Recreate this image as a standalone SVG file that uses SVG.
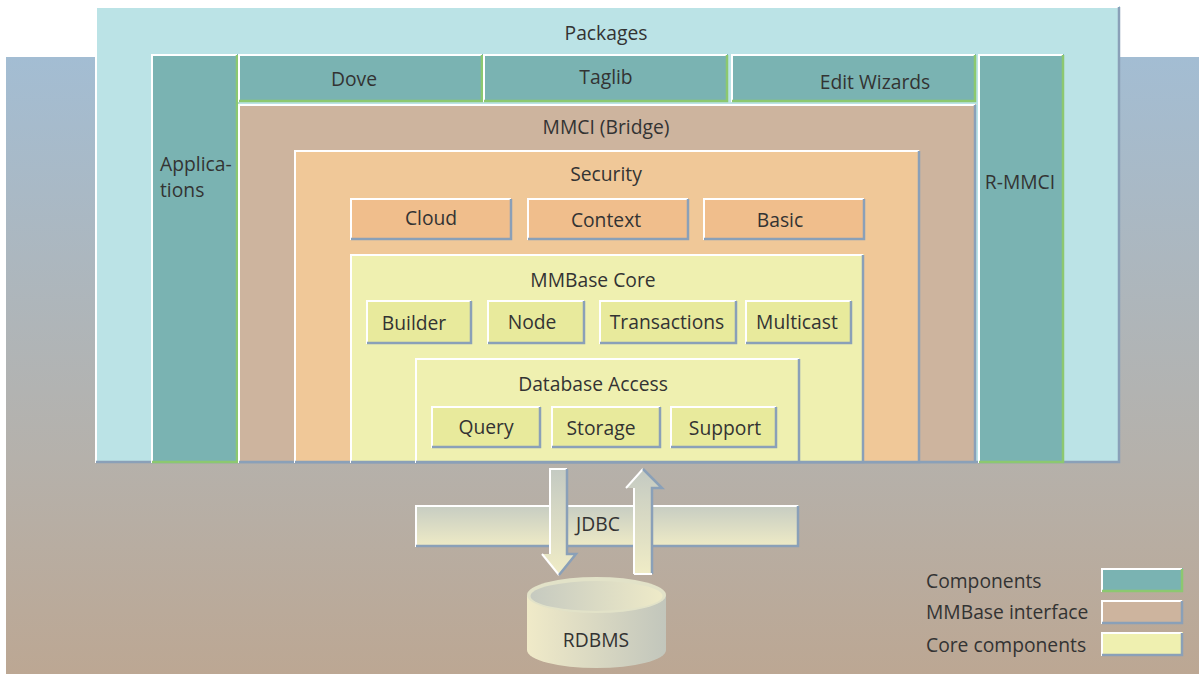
<svg xmlns="http://www.w3.org/2000/svg" width="1199" height="674" viewBox="0 0 1199 674">
<defs>
<linearGradient id="bg" x1="0" y1="0" x2="0" y2="1">
<stop offset="0" stop-color="#a3bdd3"/>
<stop offset="0.65" stop-color="#b5b1ab"/>
<stop offset="1" stop-color="#bca793"/>
</linearGradient>
<linearGradient id="bar" x1="0" y1="0" x2="0" y2="1">
<stop offset="0" stop-color="#c6ccc2"/>
<stop offset="1" stop-color="#efebc6"/>
</linearGradient>
<linearGradient id="arrV" x1="0" y1="0" x2="0" y2="1">
<stop offset="0" stop-color="#c4cac2"/>
<stop offset="1" stop-color="#f0ecc6"/>
</linearGradient>
<linearGradient id="cylBody" x1="0" y1="0" x2="1" y2="0">
<stop offset="0" stop-color="#f0eac8"/>
<stop offset="1" stop-color="#c2c6bc"/>
</linearGradient>
<linearGradient id="cylTop" x1="0" y1="0" x2="1" y2="0">
<stop offset="0" stop-color="#c6cac0"/>
<stop offset="1" stop-color="#eeeac8"/>
</linearGradient>
</defs>
<style>
text{font-family:"Open Sans","Liberation Sans",sans-serif;font-size:19.3px;fill:#333;}
.c{text-anchor:middle;}
.pk{fill:#bbe3e6;}
.cm{fill:#7ab3b2;}
.mi{fill:#cdb49e;}
.se{fill:#f0c898;}
.sb{fill:#f0be8c;}
.co{fill:#eff0b0;}
.cb{fill:#e8ea9c;}
.hl{fill:none;stroke:#ffffff;stroke-width:2;}
.sh{fill:none;stroke:#8aa0b8;stroke-width:2.5;}
.gr{fill:none;stroke:#8cc870;stroke-width:2.5;}
</style>
<rect x="6" y="57" width="1193" height="617" fill="url(#bg)"/>

<g id="packages">
<rect class="pk" x="95" y="6" width="1025" height="457"/>
<path class="hl" d="M96,463 V7 H1119"/>
<path class="sh" d="M96,462 H1119 V7"/>
<text class="c" x="606" y="40">Packages</text>
</g>

<g id="applications">
<rect class="cm" x="151" y="54" width="87" height="409"/>
<path class="hl" d="M152,463 V55 H237"/>
<path class="gr" d="M152,462 H237 V55"/>
<text x="160" y="171">Applica-</text>
<text x="160" y="197">tions</text>
</g>

<g id="dove">
<rect class="cm" x="238" y="54" width="245" height="48"/>
<path class="hl" d="M239,102 V55 H482"/>
<path class="gr" d="M239,101 H482 V55"/>
<text class="c" x="354" y="86">Dove</text>
</g>

<g id="taglib">
<rect class="cm" x="483" y="54" width="245" height="48"/>
<path class="hl" d="M484,102 V55 H727"/>
<path class="gr" d="M484,101 H727 V55"/>
<text class="c" x="606" y="84">Taglib</text>
</g>

<g id="editwizards">
<rect class="cm" x="731" y="54" width="245" height="48"/>
<path class="hl" d="M732,102 V55 H975"/>
<path class="gr" d="M732,101 H975 V55"/>
<text class="c" x="875" y="89">Edit Wizards</text>
</g>

<g id="rmmci">
<rect class="cm" x="978" y="54" width="86" height="409"/>
<path class="hl" d="M979,463 V55 H1063"/>
<path class="gr" d="M979,462 H1063 V55"/>
<text class="c" x="1020" y="189">R-MMCI</text>
</g>

<g id="mmci">
<rect class="mi" x="238" y="104" width="738" height="359"/>
<path class="hl" d="M239,463 V105 H975"/>
<path class="sh" d="M239,462 H975 V105"/>
<text class="c" x="606" y="134">MMCI (Bridge)</text>
</g>

<g id="security">
<rect class="se" x="294" y="150" width="626" height="313"/>
<path class="hl" d="M295,463 V151 H919"/>
<path class="sh" d="M295,462 H919 V151"/>
<text class="c" x="606" y="181">Security</text>
</g>

<g id="cloud">
<rect class="sb" x="350" y="198" width="162" height="42"/>
<path class="hl" d="M351,240 V199 H511"/>
<path class="sh" d="M351,239 H511 V199"/>
<text class="c" x="431" y="225">Cloud</text>
</g>

<g id="context">
<rect class="sb" x="527" y="198" width="162" height="42"/>
<path class="hl" d="M528,240 V199 H688"/>
<path class="sh" d="M528,239 H688 V199"/>
<text class="c" x="606" y="227">Context</text>
</g>

<g id="basic">
<rect class="sb" x="703" y="198" width="162" height="42"/>
<path class="hl" d="M704,240 V199 H864"/>
<path class="sh" d="M704,239 H864 V199"/>
<text class="c" x="780" y="227">Basic</text>
</g>

<g id="mmbasecore">
<rect class="co" x="350" y="254" width="514" height="209"/>
<path class="hl" d="M351,463 V255 H863"/>
<path class="sh" d="M351,462 H863 V255"/>
<text class="c" x="593" y="287">MMBase Core</text>
</g>

<g id="builder">
<rect class="cb" x="366" y="300" width="106" height="44"/>
<path class="hl" d="M367,344 V301 H471"/>
<path class="sh" d="M367,343 H471 V301"/>
<text class="c" x="414" y="330">Builder</text>
</g>

<g id="node">
<rect class="cb" x="487" y="300" width="98" height="44"/>
<path class="hl" d="M488,344 V301 H584"/>
<path class="sh" d="M488,343 H584 V301"/>
<text class="c" x="532" y="329">Node</text>
</g>

<g id="transactions">
<rect class="cb" x="599" y="300" width="138" height="44"/>
<path class="hl" d="M600,344 V301 H736"/>
<path class="sh" d="M600,343 H736 V301"/>
<text class="c" x="667" y="329">Transactions</text>
</g>

<g id="multicast">
<rect class="cb" x="745" y="300" width="107" height="44"/>
<path class="hl" d="M746,344 V301 H851"/>
<path class="sh" d="M746,343 H851 V301"/>
<text class="c" x="797" y="329">Multicast</text>
</g>

<g id="databaseaccess">
<rect class="co" x="415" y="358" width="385" height="105"/>
<path class="hl" d="M416,463 V359 H799"/>
<path class="sh" d="M416,462 H799 V359"/>
<text class="c" x="593" y="391">Database Access</text>
</g>

<g id="query">
<rect class="cb" x="431" y="406" width="110" height="42"/>
<path class="hl" d="M432,448 V407 H540"/>
<path class="sh" d="M432,447 H540 V407"/>
<text class="c" x="486" y="434">Query</text>
</g>

<g id="storage">
<rect class="cb" x="551" y="406" width="110" height="42"/>
<path class="hl" d="M552,448 V407 H660"/>
<path class="sh" d="M552,447 H660 V407"/>
<text class="c" x="601" y="435">Storage</text>
</g>

<g id="support">
<rect class="cb" x="670" y="406" width="107" height="42"/>
<path class="hl" d="M671,448 V407 H776"/>
<path class="sh" d="M671,447 H776 V407"/>
<text class="c" x="725" y="435">Support</text>
</g>

<g id="jdbc">
<rect x="415" y="505" width="384" height="42" fill="url(#bar)"/>
<path class="hl" d="M416,547 V506 H798"/>
<path class="sh" d="M416,546 H798 V506"/>
<text class="c" x="598" y="531">JDBC</text>
</g>

<g id="connectors">
<polygon points="550,469 567,469 567,554 576,554 559,575 542,554 550,554" fill="url(#arrV)"/>
<path class="hl" d="M550,554 V469 H567"/>
<path class="hl" d="M542,554 L559,575" stroke-width="1.5"/>
<path class="sh" d="M567,469 V554 H576 L559,575" stroke-width="1.5"/>
<polygon points="643,469 662,488 652,488 652,574 634,574 634,488 626,488" fill="url(#arrV)"/>
<path class="hl" d="M626,488 L643,469 M634,488 V574" stroke-width="1.5"/>
<path class="sh" d="M643,469 L662,488 H652 V574" stroke-width="1.5"/>
<path class="hl" d="M634,574 H652" stroke-width="1.5"/>
</g>

<g id="rdbms">
<path d="M527,595 V650 A69.5,18 0 0 0 666,650 V595 Z" fill="url(#cylBody)"/>
<ellipse cx="596.5" cy="595" rx="69.5" ry="18" fill="#e2e2c8"/>
<ellipse cx="596.5" cy="596" rx="66" ry="15" fill="url(#cylTop)"/>
<text class="c" x="596" y="647">RDBMS</text>
</g>

<g id="legend">
<text x="926" y="588">Components</text>
<text x="926" y="619">MMBase interface</text>
<text x="926" y="652">Core components</text>
<rect class="cm" x="1101" y="568" width="82" height="24"/>
<path class="hl" d="M1102,592 V569 H1182"/>
<path class="gr" d="M1102,591 H1182 V569"/>
<rect class="mi" x="1101" y="600" width="82" height="24"/>
<path class="hl" d="M1102,624 V601 H1182"/>
<path class="sh" d="M1102,623 H1182 V601"/>
<rect class="co" x="1101" y="632" width="82" height="24"/>
<path class="hl" d="M1102,656 V633 H1182"/>
<path class="sh" d="M1102,655 H1182 V633"/>
</g>
</svg>
